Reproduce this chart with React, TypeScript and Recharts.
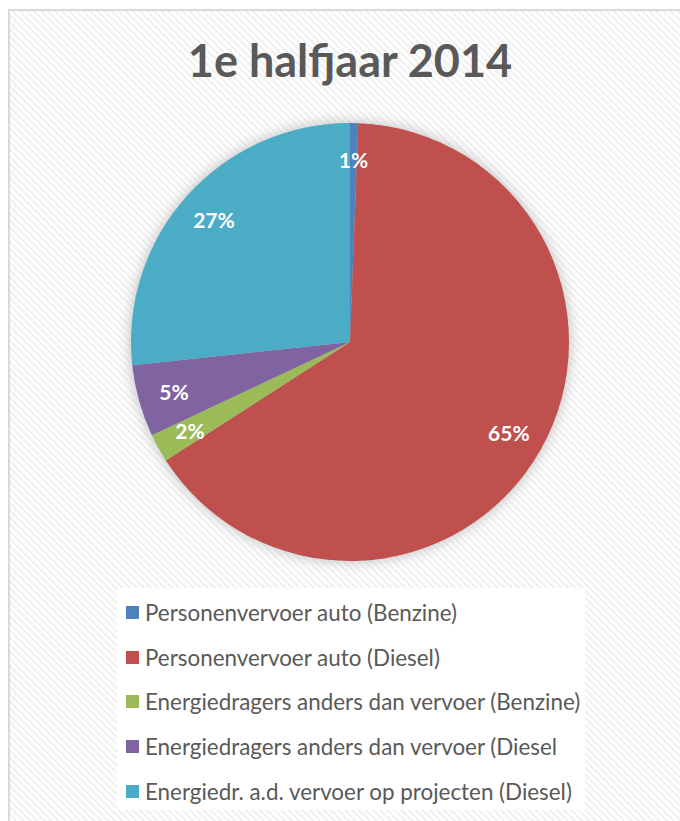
import { PieChart, Pie, Cell, Legend } from "recharts";

const CATEGORIES = [
  "Personenvervoer auto (Benzine)",
  "Personenvervoer auto (Diesel)",
  "Energiedragers anders dan vervoer (Benzine)",
  "Energiedragers anders dan vervoer (Diesel",
  "Energiedr. a.d. vervoer op projecten (Diesel)",
];
const SHARES = [0.6, 65.3, 2.1, 5.3, 26.7];
const COLORS = ["#4f81bd", "#c0504d", "#9bbb59", "#8064a2", "#4bacc6"];

const DATA = CATEGORIES.map((name, i) => ({ name, value: SHARES[i] }));

const RAD = Math.PI / 180;
const FONT = "Lato, 'Noto Sans', sans-serif";

const renderLabel = (p: any) => {
  const r = p.outerRadius * 0.835;
  const x = p.cx + r * Math.cos(-p.midAngle * RAD);
  const y = p.cy + r * Math.sin(-p.midAngle * RAD);
  return (
    <text x={x} y={y} fill="#ffffff" fontSize={21} fontWeight={700} fontFamily={FONT}
      textAnchor="middle" dominantBaseline="central">
      {Math.round(p.percent * 100)}%
    </text>
  );
};

const LegendBox = () => (
  <div style={{ background: "#ffffff", width: 468, height: 222, paddingTop: 2, boxSizing: "border-box" }}>
    {CATEGORIES.map((c, i) => (
      <div key={c} style={{ display: "flex", alignItems: "center", height: 44.7, paddingLeft: 9 }}>
        <span style={{ width: 13, height: 13, background: COLORS[i], marginRight: 6, flexShrink: 0 }} />
        <span style={{ fontFamily: FONT, fontSize: 22.4, color: "#595959", whiteSpace: "nowrap" }}>{c}</span>
      </div>
    ))}
  </div>
);

export default function App() {
  return (
    <div style={{ position: "absolute", left: 0, top: 0, width: 680, height: 821, overflow: "hidden", background: "#fff" }}>
      {/* card background: diagonal hatch + border + pie glow */}
      <svg width={680} height={821} style={{ position: "absolute", left: 0, top: 0 }}>
        <defs>
          <pattern id="hatch" width={5} height={5} patternUnits="userSpaceOnUse" patternTransform="rotate(-45)">
            <rect width={5} height={5} fill="#ffffff" />
            <rect width={2.2} height={5} fill="#f0f0f0" />
          </pattern>
          <filter id="glow" x="-20%" y="-20%" width="140%" height="140%">
            <feGaussianBlur stdDeviation={6} />
          </filter>
        </defs>
        <rect x={9} y={10} width={700} height={830} fill="url(#hatch)" stroke="#d9d9d9" strokeWidth={2} />
        <circle cx={350} cy={342} r={221} fill="#bdbdbd" filter="url(#glow)" opacity={0.8} />
      </svg>
      <div style={{ position: "absolute", left: 0, top: 30, width: 700, textAlign: "center", fontFamily: FONT,
        fontWeight: 700, fontSize: 45, color: "#595959", lineHeight: "60px" }}>
        1e halfjaar 2014
      </div>
      <div style={{ position: "absolute", left: 0, top: 0 }}>
        <PieChart width={680} height={821} margin={{ top: 0, right: 0, bottom: 0, left: 0 }}>
          <Pie data={DATA} dataKey="value" nameKey="name" cx={350} cy={342} outerRadius={219}
            startAngle={90} endAngle={-270} stroke="none" labelLine={false} label={renderLabel}
            isAnimationActive={false}>
            {DATA.map((d, i) => <Cell key={d.name} fill={COLORS[i]} />)}
          </Pie>
          <Legend content={<LegendBox />} wrapperStyle={{ left: 117, top: 588, width: 468, height: 222 }} />
        </PieChart>
      </div>
    </div>
  );
}
